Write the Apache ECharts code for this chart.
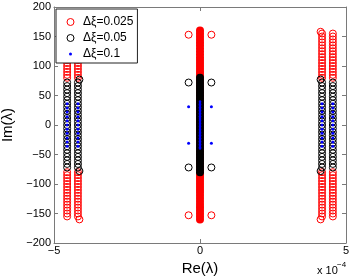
<!DOCTYPE html>
<html>
<head>
<meta charset="utf-8">
<script src="https://cdn.jsdelivr.net/npm/echarts@6/dist/echarts.min.js"></script>
<style>html,body{margin:0;padding:0;background:#fff}#c{width:354px;height:277px}</style>
</head>
<body>
<div id="c"></div>
<script>
// x values are in units of 1e-4 (axis shows "x 10^-4")
const seriesNames = ['Δξ=0.025', 'Δξ=0.05', 'Δξ=0.1'];
const xTicks = [-5, 0, 5];
const yTicks = [-200, -150, -100, -50, 0, 50, 100, 150, 200];

const sideColumnsX = [-4.55, -4.18, 4.18, 4.55];
const sideEndX = [-4.13, 4.13];
const centerPairX = [-0.39, 0.39];
const centerX = 0;

// Δξ=0.025 (red open circles)
const redSideY = [155,150,145,140,135,130,125,120,115,110,105,100,95,90,85,80,
  -80,-85,-90,-95,-100,-105,-110,-115,-120,-125,-130,-135,-140,-145,-150,-155];
const redEndY = [158, -160];
const redPairY = [153, -153];
const redCenterY = [160,155,150,145,140,135,130,125,120,115,110,105,100,95,90,85,80,75,70,65,60,55,50,45,40,35,30,25,20,15,10,5,0,
  -5,-10,-15,-20,-25,-30,-35,-40,-45,-50,-55,-60,-65,-70,-75,-80,-85,-90,-95,-100,-105,-110,-115,-120,-125,-130,-135,-140,-145,-150,-155,-160];

// Δξ=0.05 (black open circles)
const blackSideY = [72,66,60,54,48,42,36,30,24,18,12,6,0,-6,-12,-18,-24,-30,-36,-42,-48,-54,-60,-66,-72];
const blackEndY = [77, -78];
const blackPairY = [72, -72];
const blackCenterY = [80,75,70,65,60,55,50,45,40,35,30,25,20,15,10,5,0,-5,-10,-15,-20,-25,-30,-35,-40,-45,-50,-55,-60,-65,-70,-75,-80];

// Δξ=0.1 (blue dots)
const blueSideY = [36,29,22,14,7,0,-7,-14,-22,-29,-36];
const bluePairY = [31, -31];
const blueCenterY = [40,37.5,35,32.5,30,27.5,25,22.5,20,17.5,15,12.5,10,7.5,5,2.5,0,-2.5,-5,-7.5,-10,-12.5,-15,-17.5,-20,-22.5,-25,-27.5,-30,-32.5,-35,-37.5,-40];

function grid2(xs, ys) { const out = []; xs.forEach(x => ys.forEach(y => out.push([x, y]))); return out; }
function col(x, ys) { return ys.map(y => [x, y]); }

const RED = '#ff0000', BLACK = '#000000', BLUE = '#0000ff';
const minus = v => String(v).replace('-', '\u2212');
const font = 'Liberation Sans, Arial, Helvetica, sans-serif';

const ring = (name, color, data) => ({
  name, type: 'scatter', data, symbol: 'circle', symbolSize: 7, silent: true,
  itemStyle: { color: 'rgba(0,0,0,0)', borderColor: color, borderWidth: 1, opacity: 1 }
});
const filled = (name, color, size, data) => ({
  name, type: 'scatter', data, symbol: 'circle', symbolSize: size, silent: true,
  itemStyle: { color, borderWidth: 0, opacity: 1 }
});

const chart = echarts.init(document.getElementById('c'), null, { renderer: 'canvas' });
chart.setOption({
  animation: false,
  backgroundColor: '#fff',
  grid: { left: 54, right: 8, top: 7, bottom: 34, containLabel: false, outerBoundsMode: 'none' },
  legend: {
    data: [
      { name: seriesNames[0], icon: 'circle', itemStyle: { color: 'rgba(0,0,0,0)', borderColor: RED, borderWidth: 1 } },
      { name: seriesNames[1], icon: 'circle', itemStyle: { color: 'rgba(0,0,0,0)', borderColor: BLACK, borderWidth: 1 } },
      { name: seriesNames[2], icon: 'circle', itemStyle: { color: BLUE, borderColor: '#fff', borderWidth: 4 } }
    ],
    orient: 'vertical', left: 56, top: 9,
    itemWidth: 7, itemHeight: 7, itemGap: 2,
    padding: [6, 4, 2, 9],
    backgroundColor: '#fff', borderColor: '#222', borderWidth: 1,
    selectedMode: false,
    textStyle: { fontFamily: font, fontSize: 12, color: '#000', lineHeight: 14, padding: [0, 0, 0, 4] }
  },
  xAxis: [
    { type: 'value', min: xTicks[0], max: xTicks[xTicks.length - 1], interval: 5, position: 'bottom',
      name: 'Re(λ)', nameLocation: 'middle', nameGap: 12,
      nameTextStyle: { fontFamily: font, fontSize: 15, color: '#000' },
      axisLine: { show: true, onZero: false, lineStyle: { color: '#7a7a7a', width: 1 } },
      axisTick: { show: true, inside: true, length: 4, lineStyle: { color: '#7a7a7a' } },
      axisLabel: { fontFamily: font, fontSize: 11, color: '#000', margin: 2, formatter: minus },
      splitLine: { show: false } },
    { type: 'value', min: xTicks[0], max: xTicks[xTicks.length - 1], interval: 5, position: 'top',
      axisLine: { show: true, onZero: false, lineStyle: { color: '#7a7a7a', width: 1 } },
      axisTick: { show: true, inside: true, length: 4, lineStyle: { color: '#7a7a7a' } },
      axisLabel: { show: false }, splitLine: { show: false } }
  ],
  yAxis: [
    { type: 'value', min: yTicks[0], max: yTicks[yTicks.length - 1], interval: 50, position: 'left',
      name: 'Im(λ)', nameLocation: 'middle', nameGap: 27, nameRotate: 90,
      nameTextStyle: { fontFamily: font, fontSize: 15, color: '#000' },
      axisLine: { show: true, onZero: false, lineStyle: { color: '#7a7a7a', width: 1 } },
      axisTick: { show: true, inside: true, length: 4, lineStyle: { color: '#7a7a7a' } },
      axisLabel: { fontFamily: font, fontSize: 11, color: '#000', margin: 3, formatter: minus },
      splitLine: { show: false } },
    { type: 'value', min: yTicks[0], max: yTicks[yTicks.length - 1], interval: 50, position: 'right',
      axisLine: { show: true, onZero: false, lineStyle: { color: '#7a7a7a', width: 1 } },
      axisTick: { show: true, inside: true, length: 4, lineStyle: { color: '#7a7a7a' } },
      axisLabel: { show: false }, splitLine: { show: false } }
  ],
  graphic: [
    { type: 'text', left: 317, top: 265, style: { text: 'x 10', fontFamily: font, fontSize: 11, fill: '#000' } },
    { type: 'text', left: 337, top: 261, style: { text: '\u22124', fontFamily: font, fontSize: 8, fill: '#000' } }
  ],
  series: [
    ring(seriesNames[0], RED, grid2(sideColumnsX, redSideY).concat(grid2(sideEndX, redEndY), grid2(centerPairX, redPairY))),
    filled('c025', RED, 8, col(centerX, redCenterY)),
    ring(seriesNames[1], BLACK, grid2(sideColumnsX, blackSideY).concat(grid2(sideEndX, blackEndY), grid2(centerPairX, blackPairY))),
    filled('c05', BLACK, 8, col(centerX, blackCenterY)),
    filled(seriesNames[2], BLUE, 3, grid2(sideColumnsX, blueSideY).concat(grid2(centerPairX, bluePairY))),
    filled('c1', BLUE, 2.5, col(centerX, blueCenterY))
  ]
});
</script>
</body>
</html>
